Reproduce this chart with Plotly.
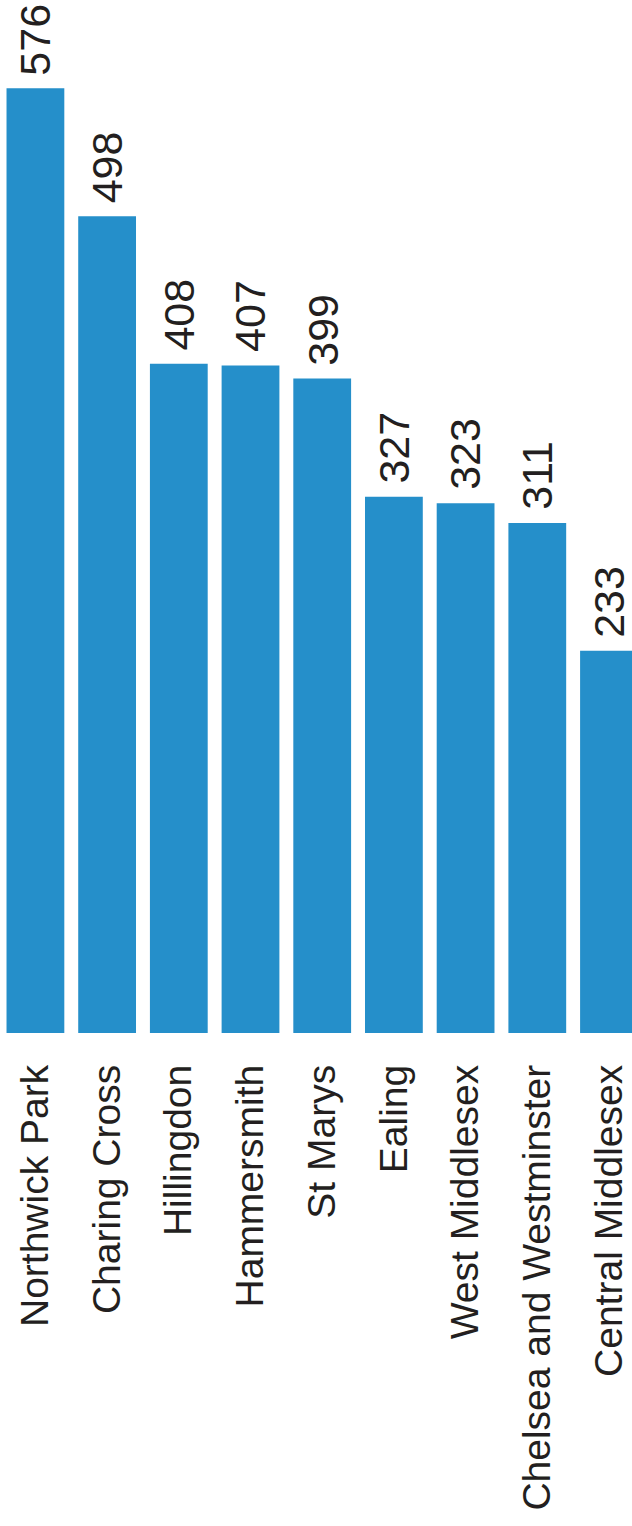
import plotly.graph_objects as go

categories = ["Northwick Park", "Charing Cross", "Hillingdon", "Hammersmith", "St Marys",
              "Ealing", "West Middlesex", "Chelsea and Westminster", "Central Middlesex"]
values = [576, 498, 408, 407, 399, 327, 323, 311, 233]

bar_color = "#258fca"
text_color = "#231f20"
font_family = "Liberation Sans, Arial, sans-serif"

fig = go.Figure()
fig.add_trace(go.Bar(x=categories, y=values, marker=dict(color=bar_color, line=dict(width=0)),
                     hoverinfo="skip"))

for c, v in zip(categories, values):
    fig.add_annotation(x=c, y=v, text=str(v), textangle=-90, showarrow=False,
                       xanchor="center", yanchor="bottom", yshift=11,
                       font=dict(family=font_family, size=43, color=text_color))

fig.update_layout(
    width=632, height=1526,
    margin=dict(l=0, r=0, t=0, b=492.7, pad=0),
    paper_bgcolor="white", plot_bgcolor="white",
    bargap=0.194, showlegend=False,
    xaxis=dict(type="category", range=[-0.494, 8.321], tickangle=-90,
               showgrid=False, showline=False, zeroline=False, ticks="",
               ticklabelstandoff=23,
               tickfont=dict(family=font_family, size=39, color=text_color)),
    yaxis=dict(range=[0, 629.8], visible=False, showgrid=False, zeroline=False),
)

fig.write_html("out.html")
